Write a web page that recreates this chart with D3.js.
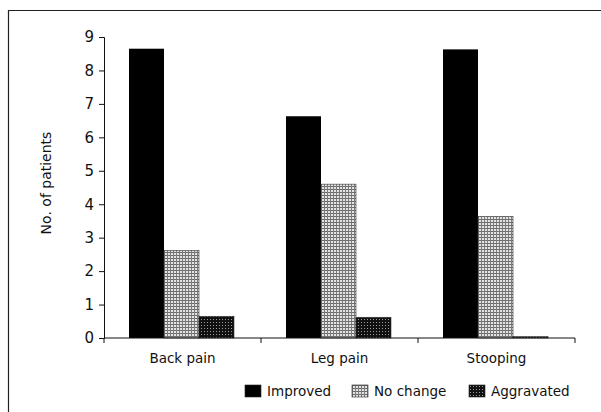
<!DOCTYPE html>
<html>
<head>
<meta charset="utf-8">
<script src="https://cdn.jsdelivr.net/npm/d3@7"></script>
<style>
  body { margin: 0; background: #fff; }
  text { font-family: "DejaVu Sans", sans-serif; fill: #111; }
</style>
</head>
<body>
<svg id="display"></svg>
<script>
const categories = ['Back pain', 'Leg pain', 'Stooping']
const seriesNames = ['Improved', 'No change', 'Aggravated']
const improved = [8.65, 6.63, 8.63]
const noChange = [2.62, 4.6, 3.63]
const aggravated = [0.65, 0.62, 0.04]
const yTicks = [0, 1, 2, 3, 4, 5, 6, 7, 8, 9]

const width = 601, height = 412
const svg = d3.select('#display').attr('width', width).attr('height', height)

// fills: solid black, light grey grid, dark grid
const defs = svg.append('defs')
let p1 = defs.append('pattern').attr('id', 'light').attr('width', 3).attr('height', 3)
  .attr('patternUnits', 'userSpaceOnUse')
p1.append('rect').attr('width', 3).attr('height', 3).attr('fill', '#e4e4e4')
p1.append('rect').attr('width', 3).attr('height', 1).attr('fill', '#6a6a6a')
p1.append('rect').attr('width', 1).attr('height', 3).attr('fill', '#7a7a7a')
let p2 = defs.append('pattern').attr('id', 'dark').attr('width', 3).attr('height', 3)
  .attr('patternUnits', 'userSpaceOnUse')
p2.append('rect').attr('width', 3).attr('height', 3).attr('fill', '#111')
p2.append('rect').attr('x', 1).attr('y', 1).attr('width', 1).attr('height', 1).attr('fill', '#999')
const fills = ['#000', 'url(#light)', 'url(#dark)']

// frame
svg.append('path').attr('d', 'M8.5,412 V10.5 H601')
  .attr('fill', 'none').attr('stroke', '#222').attr('stroke-width', 1.2)

const x0 = d3.scaleBand().domain(categories).range([104, 575])
const x1 = d3.scaleBand().domain(seriesNames).range([25, 130])
const y = d3.scaleLinear().domain([0, 9]).range([338, 37])

const data = categories.map((c, i) => ({ cat: c, vals: [improved[i], noChange[i], aggravated[i]] }))

svg.selectAll('g.grp')
  .data(data)
  .enter()
  .append('g')
  .attr('class', 'grp')
  .attr('transform', d => 'translate(' + x0(d.cat) + ',0)')
  .selectAll('rect')
  .data(d => d.vals.map((v, j) => ({ name: seriesNames[j], v: v, j: j })))
  .enter()
  .append('rect')
  .attr('x', d => x1(d.name))
  .attr('width', x1.bandwidth())
  .attr('y', d => y(d.v))
  .attr('height', d => y(0) - y(d.v))
  .attr('fill', d => fills[d.j])
  .attr('stroke', d => d.j === 0 ? 'none' : '#333')
  .attr('stroke-width', 0.6)

// y axis
const yAxis = svg.append('g')
  .attr('transform', 'translate(104,0)')
  .call(d3.axisLeft(y).tickValues(yTicks).tickSize(5).tickSizeOuter(5).tickFormat(d3.format('d')))
yAxis.selectAll('text').attr('font-size', 15).attr('x', -10)
yAxis.selectAll('line, path').attr('stroke', '#111')

// x axis with ticks at band boundaries
const xAxis = svg.append('g').attr('transform', 'translate(0,338)')
xAxis.append('line').attr('x1', 104).attr('x2', 575).attr('stroke', '#111')
const bounds = categories.map(c => x0(c)).concat([x0.range()[1]])
xAxis.selectAll('line.tk').data(bounds).enter().append('line').attr('class', 'tk')
  .attr('x1', d => d).attr('x2', d => d).attr('y1', 0).attr('y2', 5).attr('stroke', '#111')
xAxis.selectAll('text').data(categories).enter().append('text')
  .attr('x', d => x0(d) + x0.bandwidth() / 2)
  .attr('y', 25)
  .attr('text-anchor', 'middle')
  .attr('font-size', 13.5)
  .text(d => d)

// y label
svg.append('text')
  .attr('transform', 'translate(51,183) rotate(-90)')
  .attr('text-anchor', 'middle')
  .attr('font-size', 14)
  .text('No. of patients')

// legend
const legendX = [245, 352, 469]
const lg = svg.selectAll('g.lg').data(seriesNames).enter().append('g')
  .attr('class', 'lg')
  .attr('transform', (d, i) => 'translate(' + legendX[i] + ',385)')
lg.append('rect').attr('width', 16).attr('height', 12)
  .attr('fill', (d, i) => fills[i]).attr('stroke', '#222').attr('stroke-width', 0.6)
lg.append('text').attr('x', 22).attr('y', 11).attr('font-size', 13.5).text(d => d)
</script>
</body>
</html>
